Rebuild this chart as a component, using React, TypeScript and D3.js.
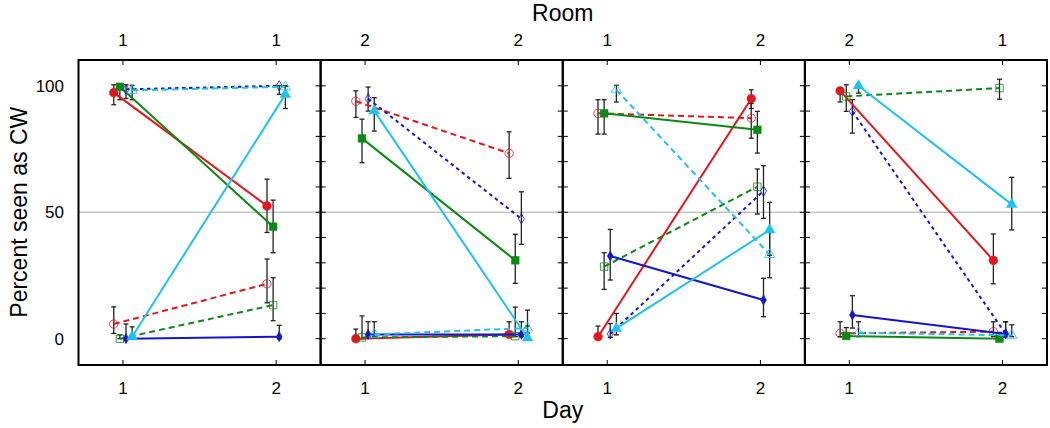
import React, { useEffect, useRef } from "react";
import * as d3 from "d3";

// Panels: each has Day 1 and Day 2; room shown on the top axis
const days = [1, 2];
const roomLabels = [
  ["1", "1"],
  ["2", "2"],
  ["1", "2"],
  ["2", "1"],
];
const yTickLabels = [0, 50, 100];
const yMinorTicks = [0, 10, 20, 30, 40, 50, 60, 70, 80, 90, 100];

// values are [panel][day]
const redSolid = [[97.3, 52.5], [0, 1.7], [0.8, 94.9], [98.0, 31.0]];
const redSolidLo = [[92.5, 42.0], [0, 0.8], [0, 91.0], [93.6, 21.7]];
const redSolidHi = [[100.4, 63.1], [3.8, 6.7], [5.0, 98.4], [99.1, 41.4]];

const redDash = [[5.8, 21.7], [93.9, 73.3], [89.1, 87.2], [2.1, 2.8]];
const redDashLo = [[2.1, 14.2], [87.5, 63.4], [80.9, 79.3], [0.8, 0.8]];
const redDashHi = [[12.6, 31.5], [98.0, 81.8], [94.5, 93.0], [6.7, 6.7]];

const greenSolid = [[99.6, 44.3], [79.2, 31.0], [89.1, 82.6], [1.1, 0]];
const greenSolidLo = [[94.5, 34.0], [69.6, 21.9], [80.9, 73.4], [0.8, 0]];
const greenSolidHi = [[100.4, 54.8], [86.8, 41.3], [94.5, 89.9], [4.4, 2.5]];

const greenDash = [[0, 13.3], [0.5, 1.0], [28.5, 60.1], [95.8, 99.1]];
const greenDashLo = [[0, 7.1], [0, 0.8], [19.5, 49.3], [89.9, 94.7]];
const greenDashHi = [[1.5, 24.1], [9.0, 12.5], [34.0, 67.1], [100.4, 102.6]];

const blueSolid = [[0, 0.8], [1.7, 1.7], [32.7, 15.3], [9.4, 1.9]];
const blueSolidLo = [[0, 0], [0.8, 0.8], [23.2, 8.7], [4.2, 0.8]];
const blueSolidHi = [[5.8, 5.3], [6.7, 6.7], [43.2, 23.9], [17.0, 6.7]];

const blueDash = [[98.6, 100], [94.9, 47.4], [1.9, 58.4], [89.9, 1.9]];
const blueDashLo = [[95.0, 96.6], [90.0, 37.3], [0.5, 47.6], [81.3, 0.8]];
const blueDashHi = [[100.4, 100], [99.5, 58.1], [6.0, 68.4], [94.5, 6.7]];

const cyanSolid = [[0.8, 96.6], [90.1, 0.3], [4.1, 43.0], [100, 53.1]];
const cyanSolidLo = [[0, 91.0], [82.1, 0], [1.5, 33.0], [97.1, 43.0]];
const cyanSolidHi = [[4.7, 99.9], [95.3, 5.0], [10.0, 53.9], [100.7, 63.8]];

const cyanDash = [[98.2, 99.6], [1.7, 4.2], [98.4, 33.3], [2.4, 1.3]];
const cyanDashLo = [[94.5, 97.0], [0.8, 2.2], [93.6, 24.1], [0.8, 0.8]];
const cyanDashHi = [[100.2, 100], [6.7, 11.3], [100.2, 42.0], [6.7, 5.5]];

const series = [
  { mean: redSolid, lo: redSolidLo, hi: redSolidHi, color: "#e8141c", dash: null, filled: true, shape: d3.symbolCircle, size: 60, offset: -0.06 },
  { mean: redDash, lo: redDashLo, hi: redDashHi, color: "#e8141c", dash: "6,4", filled: false, shape: d3.symbolCircle, size: 55, offset: -0.06 },
  { mean: greenSolid, lo: greenSolidLo, hi: greenSolidHi, color: "#0a8a12", dash: null, filled: true, shape: d3.symbolSquare, size: 60, offset: -0.02 },
  { mean: greenDash, lo: greenDashLo, hi: greenDashHi, color: "#0a8a12", dash: "6,4", filled: false, shape: d3.symbolSquare, size: 55, offset: -0.02 },
  { mean: blueSolid, lo: blueSolidLo, hi: blueSolidHi, color: "#1414d2", dash: null, filled: true, shape: d3.symbolDiamond, size: 30, offset: 0.02 },
  { mean: blueDash, lo: blueDashLo, hi: blueDashHi, color: "#1414d2", dash: "3.5,3.5", filled: false, shape: d3.symbolDiamond, size: 30, offset: 0.02 },
  { mean: cyanSolid, lo: cyanSolidLo, hi: cyanSolidHi, color: "#1ec2f0", dash: null, filled: true, shape: d3.symbolTriangle, size: 50, offset: 0.06 },
  { mean: cyanDash, lo: cyanDashLo, hi: cyanDashHi, color: "#1ec2f0", dash: "6,4", filled: false, shape: d3.symbolTriangle, size: 45, offset: 0.06 },
];

const App: React.FC = () => {
  const svgRef = useRef<SVGSVGElement>(null);

  useEffect(() => {
    if (!svgRef.current) return;
    const svg = d3.select(svgRef.current);
    svg.selectAll("*").remove();

    const left = 78.5;
    const right = 1047;
    const top = 60;
    const bottom = 365;
    const nPanels = roomLabels.length;
    const panelW = (right - left) / nPanels;
    const font = "'Liberation Sans', Arial, sans-serif";

    const y = d3.scaleLinear().domain([-10.4, 110.2]).range([bottom, top]);
    const panelX = (p: number) =>
      d3.scaleLinear().domain([0.71, 2.29]).range([left + p * panelW, left + (p + 1) * panelW]);

    // reference line at 50
    svg
      .append("line")
      .attr("x1", left)
      .attr("x2", right)
      .attr("y1", y(50))
      .attr("y2", y(50))
      .attr("stroke", "#a8a8a8")
      .attr("stroke-width", 1);

    roomLabels.forEach((rooms, p) => {
      const x = panelX(p);
      const g = svg.append("g");
      const x0 = left + p * panelW;
      const x1 = x0 + panelW;

      // y ticks inside the panel
      yMinorTicks.forEach((t) => {
        if (p > 0) {
          g.append("line")
            .attr("x1", x0).attr("x2", x0 + 5)
            .attr("y1", y(t)).attr("y2", y(t))
            .attr("stroke", "#000").attr("stroke-width", 1);
        }
        g.append("line")
          .attr("x1", x1 - 5).attr("x2", x1)
          .attr("y1", y(t)).attr("y2", y(t))
          .attr("stroke", "#000").attr("stroke-width", 1);
      });

      // x ticks top and bottom
      days.forEach((d, i) => {
        g.append("line")
          .attr("x1", x(d)).attr("x2", x(d))
          .attr("y1", top).attr("y2", top + 5)
          .attr("stroke", "#000").attr("stroke-width", 1);
        g.append("line")
          .attr("x1", x(d)).attr("x2", x(d))
          .attr("y1", bottom - 5).attr("y2", bottom)
          .attr("stroke", "#000").attr("stroke-width", 1);
        svg
          .append("text")
          .attr("x", x(d))
          .attr("y", 394)
          .attr("text-anchor", "middle")
          .style("font-family", font)
          .style("font-size", "17px")
          .text(String(d));
        svg
          .append("text")
          .attr("x", x(d))
          .attr("y", 46)
          .attr("text-anchor", "middle")
          .style("font-family", font)
          .style("font-size", "17px")
          .text(rooms[i]);
      });

      // error bars
      series.forEach((s) => {
        days.forEach((d, i) => {
          const cx = x(d + s.offset);
          const ylo = y(s.lo[p][i]);
          const yhi = y(s.hi[p][i]);
          g.append("line")
            .attr("x1", cx).attr("x2", cx)
            .attr("y1", ylo).attr("y2", yhi)
            .attr("stroke", "#222").attr("stroke-width", 1.3);
          [ylo, yhi].forEach((yy) =>
            g.append("line")
              .attr("x1", cx - 2.5).attr("x2", cx + 2.5)
              .attr("y1", yy).attr("y2", yy)
              .attr("stroke", "#222").attr("stroke-width", 1.3)
          );
        });
      });

      // lines and markers
      series.forEach((s) => {
        const pts = days.map((d, i) => [x(d + s.offset), y(s.mean[p][i])] as [number, number]);
        g.append("path")
          .attr("d", d3.line()(pts))
          .attr("fill", "none")
          .attr("stroke", s.color)
          .attr("stroke-width", 2)
          .attr("stroke-dasharray", s.dash);
        pts.forEach(([px, py]) => {
          g.append("path")
            .attr("d", d3.symbol().type(s.shape).size(s.size)())
            .attr("transform", `translate(${px},${py})`)
            .attr("fill", s.filled ? s.color : "none")
            .attr("stroke", s.color)
            .attr("stroke-width", s.filled ? 0.5 : 0.8);
        });
      });

      // panel frame
      svg
        .append("rect")
        .attr("x", x0)
        .attr("y", top)
        .attr("width", panelW)
        .attr("height", bottom - top)
        .attr("fill", "none")
        .attr("stroke", "#000")
        .attr("stroke-width", 2);
    });

    // y tick labels
    yTickLabels.forEach((t) => {
      svg
        .append("text")
        .attr("x", 64)
        .attr("y", y(t))
        .attr("dy", "0.36em")
        .attr("text-anchor", "end")
        .style("font-family", font)
        .style("font-size", "17px")
        .text(String(t));
    });

    // axis titles
    svg
      .append("text")
      .attr("x", (left + right) / 2)
      .attr("y", 21)
      .attr("text-anchor", "middle")
      .style("font-family", font)
      .style("font-size", "23px")
      .text("Room");

    svg
      .append("text")
      .attr("x", (left + right) / 2)
      .attr("y", 418)
      .attr("text-anchor", "middle")
      .style("font-family", font)
      .style("font-size", "23px")
      .text("Day");

    svg
      .append("text")
      .attr("transform", `translate(27,${y(50)}) rotate(-90)`)
      .attr("text-anchor", "middle")
      .style("font-family", font)
      .style("font-size", "23px")
      .text("Percent seen as CW");
  }, []);

  return (
    <svg
      ref={svgRef}
      width={1050}
      height={428}
      style={{ position: "absolute", left: 0, top: 0, background: "#fff" }}
    />
  );
};

export default App;
